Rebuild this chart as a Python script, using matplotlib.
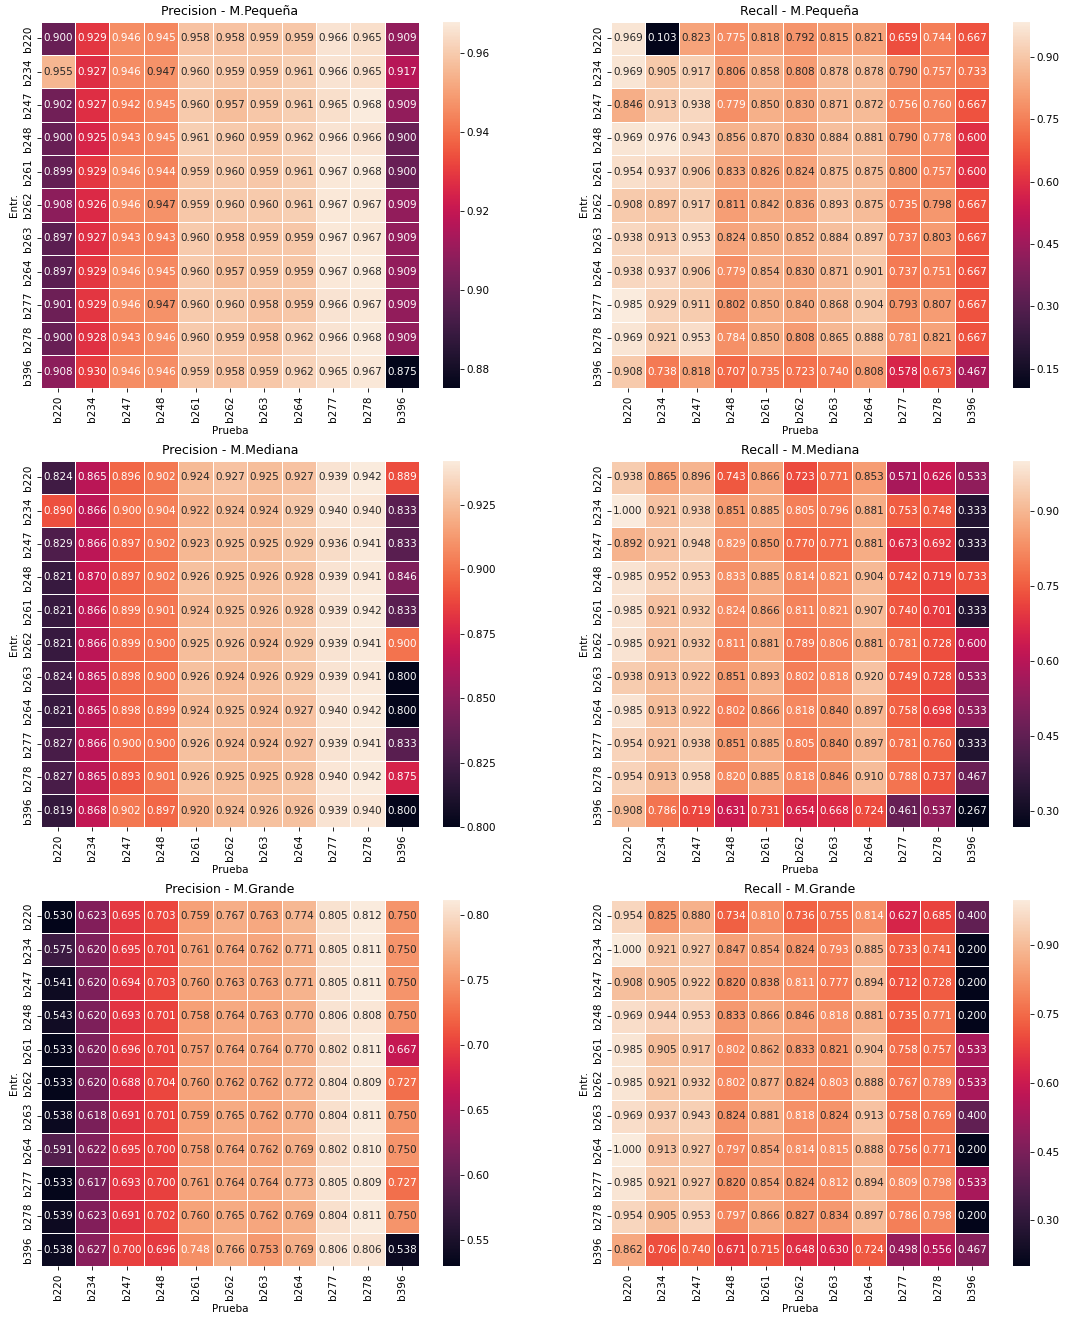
import numpy as np
import matplotlib
matplotlib.use("Agg")
import matplotlib.pyplot as plt
from matplotlib.ticker import FixedLocator, FormatStrFormatter
import seaborn as sns

# bloques de entrenamiento / prueba
bloques = ["b220", "b234", "b247", "b248", "b261", "b262", "b263", "b264", "b277", "b278", "b396"]

prec_pequena = [
    [0.900, 0.929, 0.946, 0.945, 0.958, 0.958, 0.959, 0.959, 0.966, 0.965, 0.909],
    [0.955, 0.927, 0.946, 0.947, 0.960, 0.959, 0.959, 0.961, 0.966, 0.965, 0.917],
    [0.902, 0.927, 0.942, 0.945, 0.960, 0.957, 0.959, 0.961, 0.965, 0.968, 0.909],
    [0.900, 0.925, 0.943, 0.945, 0.961, 0.960, 0.959, 0.962, 0.966, 0.966, 0.900],
    [0.899, 0.929, 0.946, 0.944, 0.959, 0.960, 0.959, 0.961, 0.967, 0.968, 0.900],
    [0.908, 0.926, 0.946, 0.947, 0.959, 0.960, 0.960, 0.961, 0.967, 0.967, 0.909],
    [0.897, 0.927, 0.943, 0.943, 0.960, 0.958, 0.959, 0.959, 0.967, 0.967, 0.909],
    [0.897, 0.929, 0.946, 0.945, 0.960, 0.957, 0.959, 0.959, 0.967, 0.968, 0.909],
    [0.901, 0.929, 0.946, 0.947, 0.960, 0.960, 0.958, 0.959, 0.966, 0.967, 0.909],
    [0.900, 0.928, 0.943, 0.946, 0.960, 0.959, 0.958, 0.962, 0.966, 0.968, 0.909],
    [0.908, 0.930, 0.946, 0.946, 0.959, 0.958, 0.959, 0.962, 0.965, 0.967, 0.875],
]

rec_pequena = [
    [0.969, 0.103, 0.823, 0.775, 0.818, 0.792, 0.815, 0.821, 0.659, 0.744, 0.667],
    [0.969, 0.905, 0.917, 0.806, 0.858, 0.808, 0.878, 0.878, 0.790, 0.757, 0.733],
    [0.846, 0.913, 0.938, 0.779, 0.850, 0.830, 0.871, 0.872, 0.756, 0.760, 0.667],
    [0.969, 0.976, 0.943, 0.856, 0.870, 0.830, 0.884, 0.881, 0.790, 0.778, 0.600],
    [0.954, 0.937, 0.906, 0.833, 0.826, 0.824, 0.875, 0.875, 0.800, 0.757, 0.600],
    [0.908, 0.897, 0.917, 0.811, 0.842, 0.836, 0.893, 0.875, 0.735, 0.798, 0.667],
    [0.938, 0.913, 0.953, 0.824, 0.850, 0.852, 0.884, 0.897, 0.737, 0.803, 0.667],
    [0.938, 0.937, 0.906, 0.779, 0.854, 0.830, 0.871, 0.901, 0.737, 0.751, 0.667],
    [0.985, 0.929, 0.911, 0.802, 0.850, 0.840, 0.868, 0.904, 0.793, 0.807, 0.667],
    [0.969, 0.921, 0.953, 0.784, 0.850, 0.808, 0.865, 0.888, 0.781, 0.821, 0.667],
    [0.908, 0.738, 0.818, 0.707, 0.735, 0.723, 0.740, 0.808, 0.578, 0.673, 0.467],
]

prec_mediana = [
    [0.824, 0.865, 0.896, 0.902, 0.924, 0.927, 0.925, 0.927, 0.939, 0.942, 0.889],
    [0.890, 0.866, 0.900, 0.904, 0.922, 0.924, 0.924, 0.929, 0.940, 0.940, 0.833],
    [0.829, 0.866, 0.897, 0.902, 0.923, 0.925, 0.925, 0.929, 0.936, 0.941, 0.833],
    [0.821, 0.870, 0.897, 0.902, 0.926, 0.925, 0.926, 0.928, 0.939, 0.941, 0.846],
    [0.821, 0.866, 0.899, 0.901, 0.924, 0.925, 0.926, 0.928, 0.939, 0.942, 0.833],
    [0.821, 0.866, 0.899, 0.900, 0.925, 0.926, 0.924, 0.929, 0.939, 0.941, 0.900],
    [0.824, 0.865, 0.898, 0.900, 0.926, 0.924, 0.926, 0.929, 0.939, 0.941, 0.800],
    [0.821, 0.865, 0.898, 0.899, 0.924, 0.925, 0.924, 0.927, 0.940, 0.942, 0.800],
    [0.827, 0.866, 0.900, 0.900, 0.926, 0.924, 0.924, 0.927, 0.939, 0.941, 0.833],
    [0.827, 0.865, 0.893, 0.901, 0.926, 0.925, 0.925, 0.928, 0.940, 0.942, 0.875],
    [0.819, 0.868, 0.902, 0.897, 0.920, 0.924, 0.926, 0.926, 0.939, 0.940, 0.800],
]

rec_mediana = [
    [0.938, 0.865, 0.896, 0.743, 0.866, 0.723, 0.771, 0.853, 0.571, 0.626, 0.533],
    [1.000, 0.921, 0.938, 0.851, 0.885, 0.805, 0.796, 0.881, 0.753, 0.748, 0.333],
    [0.892, 0.921, 0.948, 0.829, 0.850, 0.770, 0.771, 0.881, 0.673, 0.692, 0.333],
    [0.985, 0.952, 0.953, 0.833, 0.885, 0.814, 0.821, 0.904, 0.742, 0.719, 0.733],
    [0.985, 0.921, 0.932, 0.824, 0.866, 0.811, 0.821, 0.907, 0.740, 0.701, 0.333],
    [0.985, 0.921, 0.932, 0.811, 0.881, 0.789, 0.806, 0.881, 0.781, 0.728, 0.600],
    [0.938, 0.913, 0.922, 0.851, 0.893, 0.802, 0.818, 0.920, 0.749, 0.728, 0.533],
    [0.985, 0.913, 0.922, 0.802, 0.866, 0.818, 0.840, 0.897, 0.758, 0.698, 0.533],
    [0.954, 0.921, 0.938, 0.851, 0.885, 0.805, 0.840, 0.897, 0.781, 0.760, 0.333],
    [0.954, 0.913, 0.958, 0.820, 0.885, 0.818, 0.846, 0.910, 0.788, 0.737, 0.467],
    [0.908, 0.786, 0.719, 0.631, 0.731, 0.654, 0.668, 0.724, 0.461, 0.537, 0.267],
]

prec_grande = [
    [0.530, 0.623, 0.695, 0.703, 0.759, 0.767, 0.763, 0.774, 0.805, 0.812, 0.750],
    [0.575, 0.620, 0.695, 0.701, 0.761, 0.764, 0.762, 0.771, 0.805, 0.811, 0.750],
    [0.541, 0.620, 0.694, 0.703, 0.760, 0.763, 0.763, 0.771, 0.805, 0.811, 0.750],
    [0.543, 0.620, 0.693, 0.701, 0.758, 0.764, 0.763, 0.770, 0.806, 0.808, 0.750],
    [0.533, 0.620, 0.696, 0.701, 0.757, 0.764, 0.764, 0.770, 0.802, 0.811, 0.667],
    [0.533, 0.620, 0.688, 0.704, 0.760, 0.762, 0.762, 0.772, 0.804, 0.809, 0.727],
    [0.538, 0.618, 0.691, 0.701, 0.759, 0.765, 0.762, 0.770, 0.804, 0.811, 0.750],
    [0.591, 0.622, 0.695, 0.700, 0.758, 0.764, 0.762, 0.769, 0.802, 0.810, 0.750],
    [0.533, 0.617, 0.693, 0.700, 0.761, 0.764, 0.764, 0.773, 0.805, 0.809, 0.727],
    [0.539, 0.623, 0.691, 0.702, 0.760, 0.765, 0.762, 0.769, 0.804, 0.811, 0.750],
    [0.538, 0.627, 0.700, 0.696, 0.748, 0.766, 0.753, 0.769, 0.806, 0.806, 0.538],
]

rec_grande = [
    [0.954, 0.825, 0.880, 0.734, 0.810, 0.736, 0.755, 0.814, 0.627, 0.685, 0.400],
    [1.000, 0.921, 0.927, 0.847, 0.854, 0.824, 0.793, 0.885, 0.733, 0.741, 0.200],
    [0.908, 0.905, 0.922, 0.820, 0.838, 0.811, 0.777, 0.894, 0.712, 0.728, 0.200],
    [0.969, 0.944, 0.953, 0.833, 0.866, 0.846, 0.818, 0.881, 0.735, 0.771, 0.200],
    [0.985, 0.905, 0.917, 0.802, 0.862, 0.833, 0.821, 0.904, 0.758, 0.757, 0.533],
    [0.985, 0.921, 0.932, 0.802, 0.877, 0.824, 0.803, 0.888, 0.767, 0.789, 0.533],
    [0.969, 0.937, 0.943, 0.824, 0.881, 0.818, 0.824, 0.913, 0.758, 0.769, 0.400],
    [1.000, 0.913, 0.927, 0.797, 0.854, 0.814, 0.815, 0.888, 0.756, 0.771, 0.200],
    [0.985, 0.921, 0.927, 0.820, 0.854, 0.824, 0.812, 0.894, 0.809, 0.798, 0.533],
    [0.954, 0.905, 0.953, 0.797, 0.866, 0.827, 0.834, 0.897, 0.786, 0.798, 0.200],
    [0.862, 0.706, 0.740, 0.671, 0.715, 0.648, 0.630, 0.724, 0.498, 0.556, 0.467],
]

# marcas de la barra de color de cada panel
ticks_pp = [0.88, 0.90, 0.92, 0.94, 0.96]
ticks_rp = [0.15, 0.30, 0.45, 0.60, 0.75, 0.90]
ticks_pm = [0.800, 0.825, 0.850, 0.875, 0.900, 0.925]
ticks_rm = [0.30, 0.45, 0.60, 0.75, 0.90]
ticks_pg = [0.55, 0.60, 0.65, 0.70, 0.75, 0.80]
ticks_rg = [0.30, 0.45, 0.60, 0.75, 0.90]

paneles = [
    (prec_pequena, "Precision - M.Pequeña", ticks_pp, "%.2f"),
    (rec_pequena, "Recall - M.Pequeña", ticks_rp, "%.2f"),
    (prec_mediana, "Precision - M.Mediana", ticks_pm, "%.3f"),
    (rec_mediana, "Recall - M.Mediana", ticks_rm, "%.2f"),
    (prec_grande, "Precision - M.Grande", ticks_pg, "%.2f"),
    (rec_grande, "Recall - M.Grande", ticks_rg, "%.2f"),
]

plt.rcParams["font.size"] = 7.5
plt.rcParams["xtick.major.size"] = 2.6
plt.rcParams["ytick.major.size"] = 2.6
plt.rcParams["xtick.major.width"] = 0.6
plt.rcParams["ytick.major.width"] = 0.6
plt.rcParams["xtick.major.pad"] = 2.6
plt.rcParams["ytick.major.pad"] = 2.6
plt.rcParams["axes.labelpad"] = 3

W, H = 1069, 1317
fig = plt.figure(figsize=(W / 100, H / 100), dpi=100)

# posiciones en pixeles de cada mapa
lefts = [40.6, 610.6]
tops = [21.7, 460.7, 899.5]
ancho, alto = 378.7, 366.7

for i, (datos, titulo, cticks, cfmt) in enumerate(paneles):
    fila, col = divmod(i, 2)
    x0, y0 = lefts[col], tops[fila]
    ax = fig.add_axes([x0 / W, 1 - (y0 + alto) / H, ancho / W, alto / H])
    cax = fig.add_axes([(x0 + 402) / W, 1 - (y0 + alto) / H, 17 / W, alto / H])
    sns.heatmap(np.array(datos), annot=True, fmt=".3f", linewidths=0.5,
                xticklabels=bloques, yticklabels=bloques,
                ax=ax, cbar_ax=cax, annot_kws={"fontsize": 7.5})
    ax.set_title(titulo, fontsize=9, pad=4.5)
    ax.set_xlabel("Prueba")
    ax.set_ylabel("Entr.")
    plt.setp(ax.get_xticklabels(), rotation=90)
    plt.setp(ax.get_yticklabels(), rotation=90, va="center")
    cax.yaxis.set_major_locator(FixedLocator(cticks))
    cax.yaxis.set_major_formatter(FormatStrFormatter(cfmt))
    cax.tick_params(labelsize=7.5)

fig.savefig("out.png", dpi=100)
